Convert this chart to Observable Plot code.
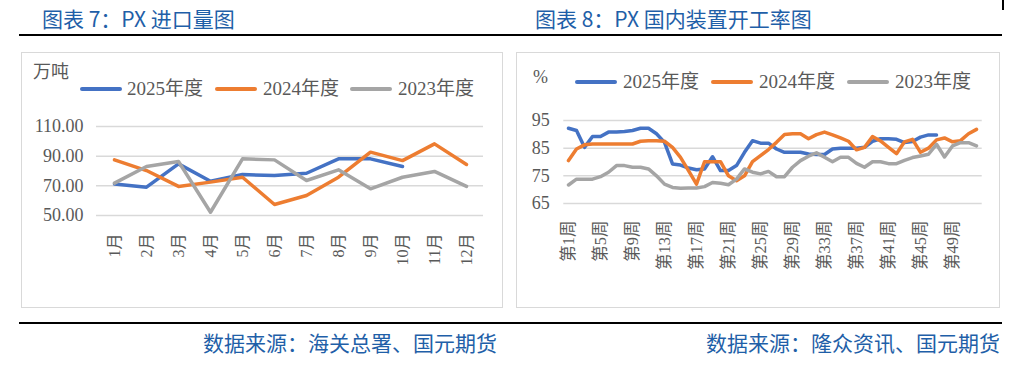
<!DOCTYPE html>
<html><head><meta charset="utf-8">
<script src="https://cdn.jsdelivr.net/npm/d3@7"></script>
<script src="https://cdn.jsdelivr.net/npm/@observablehq/plot@0.6"></script>
<style>
body{margin:0;width:1021px;height:367px;background:#fff;position:relative;overflow:hidden;font-family:"Liberation Serif","Noto Sans CJK SC",serif;}
.abs{position:absolute;white-space:nowrap;}
.title{font-family:"Noto Sans CJK SC",sans-serif;font-weight:400;font-size:21px;line-height:26px;color:#1f5fa8;top:5px;}
.src{font-family:"Noto Sans CJK SC",sans-serif;font-weight:400;font-size:21px;line-height:26px;color:#1f5fa8;top:329px;}
.rule{background:#000;height:2px;}
.box{border:1.5px solid #d9d9d9;box-sizing:border-box;}
.leg{font-size:19px;line-height:22px;color:#595959;}
.unit{font-size:18px;line-height:22px;color:#595959;}
.sw{height:4px;border-radius:2px;width:42px;}
</style></head>
<body>
<div class="abs title" style="left:42px">图表 7：PX 进口量图</div>
<div class="abs title" style="left:535px">图表 8：PX 国内装置开工率图</div>
<div class="abs rule" style="left:19px;top:34px;width:983px"></div>
<div class="abs" style="left:1002px;top:0px;width:2px;height:10px;background:#000"></div>
<div class="abs box" style="left:21px;top:52px;width:482px;height:256px"></div>
<div class="abs box" style="left:516px;top:52px;width:484px;height:256px"></div>
<div class="abs rule" style="left:19px;top:322px;width:983px"></div>
<div class="abs src" style="right:524px">数据来源：海关总署、国元期货</div>
<div class="abs src" style="right:21px">数据来源：隆众资讯、国元期货</div>

<div class="abs unit" style="left:33px;top:61px">万吨</div>
<div id="legL"></div>
<div class="abs unit" style="left:533px;top:66px">%</div>
<div id="legR"></div>
<div id="chartL" class="abs" style="left:21px;top:100px"></div>
<div id="chartR" class="abs" style="left:516px;top:100px"></div>

<script>
// ---------- data ----------
const seriesNames = ["2025年度", "2024年度", "2023年度"];
const seriesColors = ["#4472C4", "#ED7D31", "#A5A5A5"];

// PX import volume (万吨), monthly
const months = ["1月","2月","3月","4月","5月","6月","7月","8月","9月","10月","11月","12月"];
const import2025 = [71.3, 69.1, 84.8, 73.1, 77.6, 77.0, 78.5, 88.2, 88.2, 83.0];
const import2024 = [87.5, 80.3, 69.6, 72.5, 75.8, 57.4, 63.5, 75.8, 92.7, 87.0, 98.3, 84.4];
const import2023 = [71.8, 83.0, 86.4, 52.2, 88.2, 87.5, 73.6, 80.8, 68.0, 75.8, 79.7, 69.6];
const importTicks = [50, 70, 90, 110];

// PX domestic operating rate (%), weekly
const weeks = Array.from({length: 52}, (_, i) => `第${i + 1}周`);
const weekTickLabels = ["第1周","第5周","第9周","第13周","第17周","第21周","第25周","第29周","第33周","第37周","第41周","第45周","第49周"];
const rate2025 = [92.2, 91.4, 85.3, 89.2, 89.2, 90.8, 90.8, 91.0, 91.4, 92.2,
                  92.2, 90.2, 87.1, 79.3, 78.9, 77.8, 77.2, 77.5, 81.9, 76.9,
                  76.9, 78.7, 83.5, 87.7, 86.8, 86.8, 84.7, 83.5, 83.5, 83.5,
                  82.9, 82.7, 82.7, 84.7, 85.0, 85.0, 85.0, 85.3, 87.5, 88.4,
                  88.4, 88.2, 87.0, 87.4, 89.0, 89.8, 89.8];
const rate2024 = [80.5, 84.7, 86.2, 86.5, 86.5, 86.5, 86.5, 86.5, 86.5, 87.5,
                  87.7, 87.7, 87.5, 85.3, 81.7, 76.9, 72.0, 80.1, 80.1, 80.1,
                  75.0, 73.2, 75.0, 80.1, 82.3, 84.5, 87.1, 89.9, 90.2, 90.2,
                  88.4, 89.9, 90.8, 89.8, 88.7, 87.5, 84.4, 85.3, 89.2, 87.6,
                  85.3, 83.0, 87.3, 88.2, 83.5, 85.0, 88.0, 88.7, 87.3, 87.7,
                  90.2, 91.8];
const rate2023 = [71.7, 73.8, 73.8, 73.8, 74.7, 76.3, 78.7, 78.7, 78.1, 78.1,
                  77.5, 75.0, 72.0, 70.8, 70.5, 70.6, 70.6, 71.1, 72.6, 72.3,
                  71.8, 73.8, 77.5, 76.3, 75.7, 76.6, 74.7, 74.7, 78.1, 80.5,
                  82.1, 83.3, 81.7, 80.1, 81.7, 81.7, 79.5, 78.1, 80.1, 80.1,
                  79.4, 79.4, 80.6, 81.6, 82.2, 82.8, 86.4, 81.8, 85.8, 87.0,
                  87.0, 85.8];
const rateTicks = [65, 75, 85, 95];

// ---------- helpers ----------
function toRows(cats, arrays) {
  const rows = [];
  arrays.forEach((arr, k) => arr.forEach((v, i) => rows.push({cat: cats[i], v, s: seriesNames[k]})));
  return rows;
}
const font = '"Liberation Serif","Noto Sans CJK SC",serif';

function legend(id, items) {
  const el = document.getElementById(id);
  items.forEach(it => {
    const sw = document.createElement("div");
    sw.className = "abs sw";
    sw.style.cssText = `left:${it.sx}px;top:${it.y - 2}px;background:${it.color}`;
    el.appendChild(sw);
    const t = document.createElement("div");
    t.className = "abs leg";
    t.style.cssText = `left:${it.tx}px;top:${it.y - 11}px`;
    t.textContent = it.name;
    el.appendChild(t);
  });
}
legend("legL", [
  {sx: 80, tx: 127, y: 89, color: seriesColors[0], name: seriesNames[0]},
  {sx: 215, tx: 263, y: 89, color: seriesColors[1], name: seriesNames[1]},
  {sx: 350, tx: 398, y: 89, color: seriesColors[2], name: seriesNames[2]},
]);
legend("legR", [
  {sx: 575, tx: 623, y: 82, color: seriesColors[0], name: seriesNames[0]},
  {sx: 711, tx: 759, y: 82, color: seriesColors[1], name: seriesNames[1]},
  {sx: 847, tx: 895, y: 82, color: seriesColors[2], name: seriesNames[2]},
]);

const lineOpts = {x: "cat", y: "v", stroke: "s", z: "s", strokeWidth: 3.5, strokeLinejoin: "round", strokeLinecap: "round"};

// ---------- left chart ----------
const left = Plot.plot({
  width: 482, height: 175,
  marginTop: 26, marginBottom: 60, marginLeft: 75, marginRight: 20,
  style: {fontFamily: font, color: "#595959", background: "transparent", overflow: "visible"},
  x: {type: "point", domain: months, padding: 0.5},
  y: {domain: [50, 110]},
  color: {domain: seriesNames, range: seriesColors},
  marks: [
    Plot.ruleY(importTicks, {stroke: "#d9d9d9", strokeWidth: 1.5}),
    Plot.line(toRows(months, [import2025, import2024, import2023]), lineOpts),
    Plot.axisY(importTicks, {tickSize: 0, tickPadding: 13, tickFormat: d3.format(".2f"), label: null, fontSize: 18, fill: "#595959"}),
    Plot.axisX({tickSize: 0, tickPadding: 18, tickRotate: -90, label: null, fontSize: 16, fill: "#595959"})
  ]
});
document.getElementById("chartL").appendChild(left);

// ---------- right chart ----------
const right = Plot.plot({
  width: 484, height: 180,
  marginTop: 20, marginBottom: 77, marginLeft: 47.3, marginRight: 18.3,
  style: {fontFamily: font, color: "#595959", background: "transparent", overflow: "visible"},
  x: {type: "point", domain: weeks, padding: 0.5},
  y: {domain: [65, 95]},
  color: {domain: seriesNames, range: seriesColors},
  marks: [
    Plot.ruleY(rateTicks, {stroke: "#d9d9d9", strokeWidth: 1.5}),
    Plot.line(toRows(weeks, [rate2025, rate2024, rate2023]), lineOpts),
    Plot.axisY(rateTicks, {tickSize: 0, tickPadding: 14, label: null, fontSize: 18, fill: "#595959"}),
    Plot.axisX(weekTickLabels, {tickSize: 0, tickPadding: 17, tickRotate: -90, label: null, fontSize: 16.5, fill: "#595959"})
  ]
});
document.getElementById("chartR").appendChild(right);
</script>
</body></html>
